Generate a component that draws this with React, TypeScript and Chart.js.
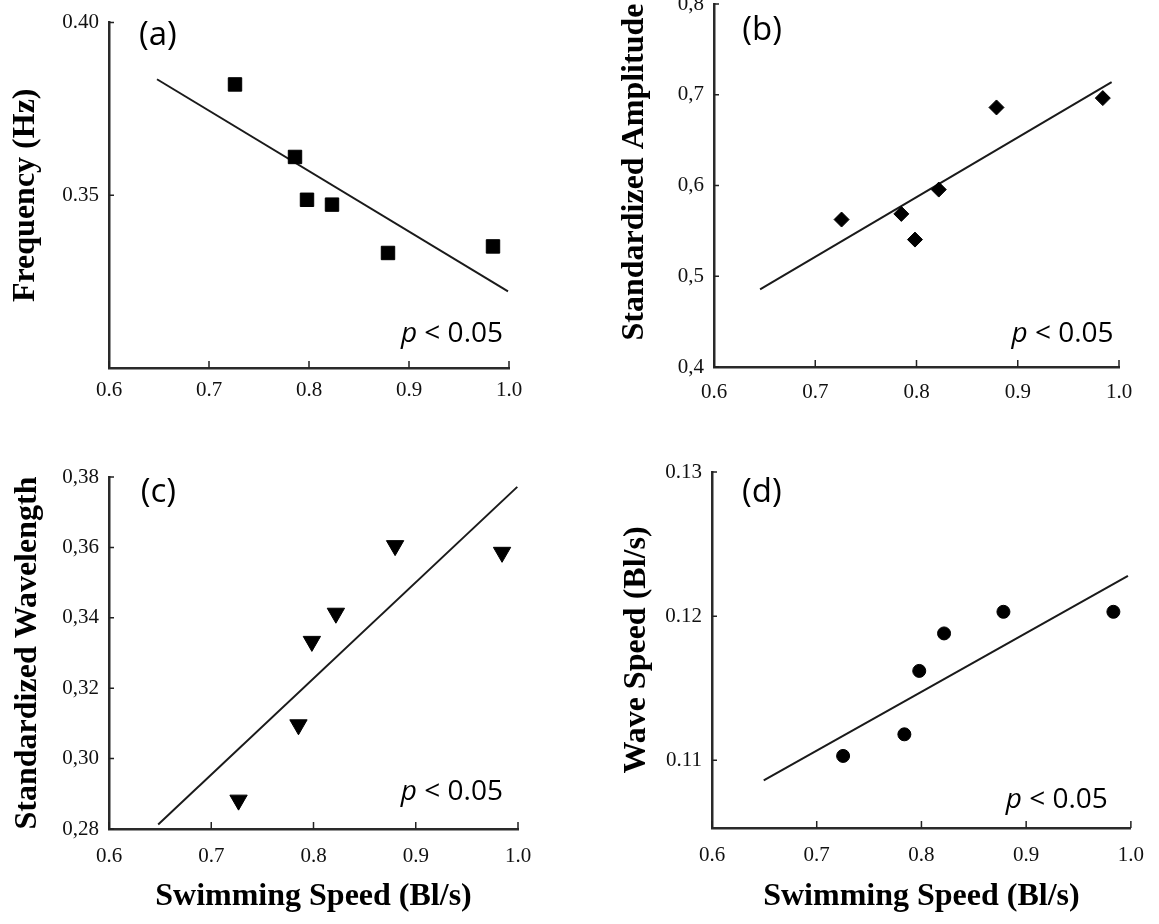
import React, { useEffect, useRef } from 'react';
import { Chart, registerables } from 'chart.js';

Chart.register(...registerables);

// ---------- data ----------
const xTickValues = [0.6, 0.7, 0.8, 0.9, 1.0];
const xTickLabels = ['0.6', '0.7', '0.8', '0.9', '1.0'];

// (a) Frequency
const speedA = [0.726, 0.786, 0.798, 0.823, 0.879, 0.984];
const frequency = [0.3821, 0.3611, 0.3487, 0.3473, 0.3333, 0.3352];
const fitSpeedA = [0.648, 0.999];
const fitFrequency = [0.3836, 0.3222];
const yTicksA = [0.35, 0.4];
const yLabelsA = ['0.35', '0.40'];

// (b) Standardized amplitude
const speedB = [0.726, 0.785, 0.7985, 0.822, 0.879, 0.984];
const amplitude = [0.5625, 0.5687, 0.5404, 0.5955, 0.686, 0.6963];
const fitSpeedB = [0.6455, 0.9927];
const fitAmplitude = [0.4855, 0.714];
const yTicksB = [0.4, 0.5, 0.6, 0.7, 0.8];
const yLabelsB = ['0,4', '0,5', '0,6', '0,7', '0,8'];

// (c) Standardized wavelength
const speedC = [0.7267, 0.7853, 0.7984, 0.8219, 0.8798, 0.9844];
const wavelength = [0.2882, 0.3096, 0.3333, 0.3413, 0.3605, 0.3586];
const fitSpeedC = [0.6481, 0.9993];
const fitWavelength = [0.2813, 0.3772];
const yTicksC = [0.28, 0.3, 0.32, 0.34, 0.36, 0.38];
const yLabelsC = ['0,28', '0,30', '0,32', '0,34', '0,36', '0,38'];

// (d) Wave speed
const speedD = [0.7252, 0.7837, 0.7979, 0.8216, 0.8783, 0.9833];
const waveSpeed = [0.1103, 0.1118, 0.1162, 0.1188, 0.1203, 0.1203];
const fitSpeedD = [0.6494, 0.9972];
const fitWaveSpeed = [0.1086, 0.1228];
const yTicksD = [0.11, 0.12, 0.13];
const yLabelsD = ['0.11', '0.12', '0.13'];

const X_TITLE = 'Swimming Speed (Bl/s)';
const P_TEXT = ' < 0.05';

// ---------- plugin for inner ticks and annotations ----------
const panelTextPlugin = {
  id: 'panelText',
  afterDraw(chart: any, _args: any, opts: any) {
    const { ctx } = chart;
    const xs = chart.scales.x;
    const ys = chart.scales.y;
    ctx.save();
    // inner tick marks
    ctx.strokeStyle = '#222';
    ctx.lineWidth = 1.5;
    ctx.beginPath();
    xs.ticks.forEach((t: any) => {
      const px = xs.getPixelForValue(t.value);
      ctx.moveTo(px, ys.bottom);
      ctx.lineTo(px, ys.bottom - 7);
    });
    ys.ticks.forEach((t: any) => {
      const py = ys.getPixelForValue(t.value);
      ctx.moveTo(xs.left, py);
      ctx.lineTo(xs.left + 5, py);
    });
    ctx.stroke();

    ctx.fillStyle = '#000';
    ctx.textBaseline = 'alphabetic';
    ctx.textAlign = 'left';
    // panel label
    ctx.font = '33px "Open Sans"';
    ctx.fillText(opts.label, xs.getPixelForValue(opts.labelAt[0]), ys.getPixelForValue(opts.labelAt[1]));
    // p-value, right aligned
    const rx = xs.getPixelForValue(opts.pAt[0]);
    const by = ys.getPixelForValue(opts.pAt[1]);
    ctx.font = '28px "Open Sans"';
    const wRest = ctx.measureText(P_TEXT).width;
    ctx.font = 'italic 28px "Open Sans"';
    const wp = ctx.measureText('p').width;
    ctx.fillText('p', rx - wRest - wp, by);
    ctx.font = '28px "Open Sans"';
    ctx.fillText(P_TEXT, rx - wRest, by);
    // optional side title (drawn manually)
    if (opts.sideTitle) {
      ctx.translate(opts.sideTitle.x, opts.sideTitle.y);
      ctx.rotate(-Math.PI / 2);
      ctx.textAlign = 'center';
      ctx.textBaseline = 'middle';
      ctx.font = 'bold 32px "Liberation Serif"';
      ctx.fillText(opts.sideTitle.text, 0, 0);
    }
    ctx.restore();
  },
};

type PanelProps = {
  left: number; top: number; width: number; height: number;
  chartLeft: number; chartTop: number; chartRight: number; chartBottom: number;
  xs: number[]; ys: number[]; fitX: number[]; fitY: number[];
  yMin: number; yMax: number; yTicks: number[]; yLabels: string[];
  pointStyle: string; pointRadius: number; pointRotation?: number;
  yTitle?: string; yTitlePad?: number; sideTitle?: { text: string; x: number; y: number };
  xTitle?: boolean; xTickPad: number;
  label: string; labelAt: number[]; pAt: number[];
};

function Panel(p: PanelProps) {
  const ref = useRef<HTMLCanvasElement | null>(null);
  useEffect(() => {
    if (!ref.current) return;
    const tickFont = { family: '"Liberation Serif"', size: 21, lineHeight: 1.2 };
    const titleFont = { family: '"Liberation Serif"', size: 32, weight: 'bold' as const, lineHeight: 1 };
    const chart = new Chart(ref.current, {
      type: 'scatter',
      data: {
        datasets: [
          {
            data: p.xs.map((x, i) => ({ x, y: p.ys[i] })),
            pointStyle: p.pointStyle as any,
            pointRadius: p.pointRadius,
            pointRotation: p.pointRotation ?? 0,
            pointBackgroundColor: '#000',
            pointBorderColor: '#000',
            pointBorderWidth: 1,
            showLine: false,
            order: 0,
          },
          {
            data: p.fitX.map((x, i) => ({ x, y: p.fitY[i] })),
            showLine: true,
            borderColor: '#1a1a1a',
            borderWidth: 2,
            pointRadius: 0,
            fill: false,
            order: 1,
          },
        ],
      },
      options: {
        animation: false,
        responsive: false,
        events: [],
        layout: { padding: { left: 0, top: p.chartTop, right: p.width - p.chartRight, bottom: 0 } },
        plugins: {
          legend: { display: false },
          tooltip: { enabled: false },
          panelText: { label: p.label, labelAt: p.labelAt, pAt: p.pAt, sideTitle: p.sideTitle },
        } as any,
        scales: {
          x: {
            type: 'linear',
            position: 'bottom',
            min: 0.6,
            max: 1.0,
            afterBuildTicks: (s: any) => { s.ticks = xTickValues.map((v) => ({ value: v })); },
            afterFit: (s: any) => { s.height = p.height - p.chartBottom; },
            grid: { display: false, drawTicks: false },
            border: { display: true, color: '#2a2a2a', width: 2.5 },
            ticks: {
              padding: p.xTickPad,
              font: tickFont,
              color: '#111',
              autoSkip: false,
              maxRotation: 0,
              callback: (v: any) => xTickLabels[xTickValues.indexOf(Number(v))] ?? '',
            },
            title: p.xTitle
              ? { display: true, text: X_TITLE, font: titleFont, color: '#000', padding: { top: 0, bottom: 11 } }
              : { display: false },
          },
          y: {
            type: 'linear',
            position: 'left',
            min: p.yMin,
            max: p.yMax,
            afterBuildTicks: (s: any) => { s.ticks = p.yTicks.map((v) => ({ value: v })); },
            afterFit: (s: any) => { s.width = p.chartLeft; },
            grid: { display: false, drawTicks: false },
            border: { display: true, color: '#2a2a2a', width: 2.5 },
            ticks: {
              padding: 10,
              font: tickFont,
              color: '#111',
              autoSkip: false,
              callback: (v: any) => p.yLabels[p.yTicks.indexOf(Number(v))] ?? '',
            },
            title: p.yTitle
              ? { display: true, text: p.yTitle, font: titleFont, color: '#000', padding: { top: p.yTitlePad ?? 10, bottom: 0 } }
              : { display: false },
          },
        },
      },
      plugins: [panelTextPlugin as any],
    });
    let alive = true;
    if ((document as any).fonts) {
      Promise.all([
        document.fonts.load('21px "Liberation Serif"'),
        document.fonts.load('bold 32px "Liberation Serif"'),
        document.fonts.load('28px "Open Sans"'),
        document.fonts.load('italic 28px "Open Sans"'),
      ]).then(() => { if (alive) chart.update(); }).catch(() => {});
    }
    return () => { alive = false; chart.destroy(); };
  }, []);
  return (
    <div style={{ position: 'absolute', left: p.left, top: p.top, width: p.width, height: p.height }}>
      <canvas ref={ref} width={p.width} height={p.height} style={{ width: p.width, height: p.height, display: 'block' }} />
    </div>
  );
}

export default function App() {
  return (
    <div style={{ position: 'absolute', left: 0, top: 0, width: 1159, height: 924, overflow: 'hidden', background: '#fff' }}>
      <Panel
        left={0} top={0} width={580} height={440}
        chartLeft={109} chartTop={20} chartRight={509} chartBottom={368}
        xs={speedA} ys={frequency} fitX={fitSpeedA} fitY={fitFrequency}
        yMin={0.3} yMax={0.4} yTicks={yTicksA} yLabels={yLabelsA}
        pointStyle="rect" pointRadius={9.5}
        yTitle="Frequency (Hz)" yTitlePad={10}
        xTickPad={10}
        label="(a)" labelAt={[0.63, 0.3934]} pAt={[0.994, 0.3075]}
      />
      <Panel
        left={580} top={-20} width={579} height={460}
        chartLeft={134} chartTop={24} chartRight={539} chartBottom={387}
        xs={speedB} ys={amplitude} fitX={fitSpeedB} fitY={fitAmplitude}
        yMin={0.4} yMax={0.8} yTicks={yTicksB} yLabels={yLabelsB}
        pointStyle="rectRot" pointRadius={7.5}
        sideTitle={{ text: 'Standardized Amplitude', x: 55, y: 192 }}
        xTickPad={13}
        label="(b)" labelAt={[0.628, 0.76]} pAt={[0.9947, 0.4275]}
      />
      <Panel
        left={0} top={440} width={580} height={484}
        chartLeft={109} chartTop={37} chartRight={518} chartBottom={389}
        xs={speedC} ys={wavelength} fitX={fitSpeedC} fitY={fitWavelength}
        yMin={0.28} yMax={0.38} yTicks={yTicksC} yLabels={yLabelsC}
        pointStyle="triangle" pointRadius={10} pointRotation={180}
        yTitle="Standardized Wavelength" yTitlePad={12}
        xTitle xTickPad={15}
        label="(c)" labelAt={[0.631, 0.3729]} pAt={[0.9853, 0.2882]}
      />
      <Panel
        left={580} top={440} width={579} height={484}
        chartLeft={132} chartTop={32} chartRight={557} chartBottom={388}
        xs={speedD} ys={waveSpeed} fitX={fitSpeedD} fitY={fitWaveSpeed}
        yMin={0.1053} yMax={0.13} yTicks={yTicksD} yLabels={yLabelsD}
        pointStyle="circle" pointRadius={6.5}
        yTitle="Wave Speed (Bl/s)" yTitlePad={41}
        xTitle xTickPad={15}
        label="(d)" labelAt={[0.6287, 0.1279]} pAt={[0.978, 0.10667]}
      />
    </div>
  );
}
